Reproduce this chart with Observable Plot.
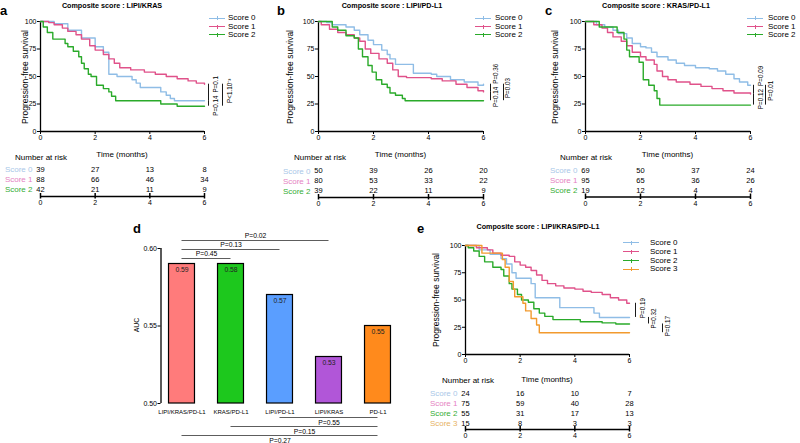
<!DOCTYPE html>
<html><head><meta charset="utf-8">
<script src="https://cdn.jsdelivr.net/npm/d3@7"></script>
<script src="https://cdn.jsdelivr.net/npm/@observablehq/plot@0.6"></script>
<style>
html,body{margin:0;padding:0;background:#fff;}
#root{position:relative;width:800px;height:443px;overflow:hidden;background:#fff;font-family:"Liberation Sans",Arial,Helvetica,sans-serif;color:#000;}
#root > svg{position:absolute;left:0;top:0;}
.t{position:absolute;white-space:nowrap;line-height:1;}
.lg{position:absolute;height:0;}
</style></head>
<body><div id="root"></div>
<script>
// ---------- shared ----------
const timeTicks = [0, 2, 4, 6];
const survTicks = [0, 25, 50, 75, 100];
const scoreNames = ["Score 0", "Score 1", "Score 2", "Score 3"];
const kmColors = ["#8FBDE6", "#E0528A", "#2AAA2A", "#F29A2E"];
const riskColors = ["#A9C7E8", "#E582C2", "#35AD35", "#E6B264"];

// ---------- panel a : LIPI/KRAS ----------
const aS0 = [[0,100],[0.5,98],[1,92],[1.5,85],[2,77],[2.3,72],[2.5,52],[2.8,50],[3.35,47],[3.5,44],[3.65,40],[4.3,40],[4.4,36],[4.6,33],[4.75,30],[4.9,28],[6,28]];
const aS1 = [[0,100],[0.3,99],[0.5,97],[0.8,94],[1,91],[1.3,88],[1.5,84],[1.8,78],[2,74],[2.3,70],[2.5,66],[2.7,62],[2.9,58],[3.3,56],[3.8,54],[4.2,52],[4.6,50],[5,48],[5.4,46],[5.7,44],[6,43]];
const aS2 = [[0,100],[0.1,95],[0.25,90],[0.45,84],[0.9,80],[1,77],[1.2,73],[1.4,68],[1.5,62],[1.6,57],[1.75,52],[1.85,50],[2.05,42],[2.3,39],[2.5,36],[2.6,32],[2.75,28],[4.4,25],[5,23],[6,23]];
const aRisk0 = [39, 27, 13, 8];
const aRisk1 = [88, 66, 46, 34];
const aRisk2 = [42, 21, 11, 9];
const aP = [[1,0,0,"P=0.1","start"],[0,2,0,"P=0.14","end"],[1,2,1,"P<1.10⁻³","middle"]];

// ---------- panel b : LIPI/PD-L1 ----------
const bS0 = [[0,100],[0.3,99],[0.5,97],[1,95],[1.3,92],[1.5,88],[1.8,83],[2,79],[2.3,74],[2.5,70],[2.6,66],[2.8,61],[3.45,53],[4.1,52],[4.3,50],[4.8,47],[5.3,45],[5.8,42],[6,43]];
const bS1 = [[0,100],[0.1,97],[0.4,93],[0.7,90],[1,88],[1.3,85],[1.5,82],[1.7,75],[1.9,71],[2.2,66],[2.5,62],[2.7,56],[2.9,50],[3.2,49],[4.1,48],[4.5,46],[5,43],[5.4,40],[5.8,37],[6,36]];
const bS2 = [[0,100],[0.5,95],[0.7,92],[1,87],[1.3,85],[1.45,75],[1.6,68],[1.8,60],[1.95,54],[2.1,47],[2.3,43],[2.5,40],[2.6,35],[2.8,33],[3.05,30],[3.15,28],[6,28]];
const bRisk0 = [50, 39, 26, 20];
const bRisk1 = [80, 53, 33, 22];
const bRisk2 = [39, 22, 11, 9];
const bP = [[0,1,0,"P=0.36","start"],[1,2,0,"P=0.14","end"],[0,2,1,"P=0.03","middle"]];

// ---------- panel c : KRAS/PD-L1 ----------
const cS0 = [[0,100],[0.4,97],[0.7,95],[1,92],[1.2,89],[1.5,85],[1.7,80],[2,77],[2.2,76],[2.4,72],[2.6,68],[3,65],[3.3,62],[3.6,60],[4,58],[4.5,57],[4.8,55],[5.1,52],[5.4,48],[5.6,45],[5.9,42],[6,42]];
const cS1 = [[0,100],[0.3,97],[0.6,94],[0.8,90],[1,86],[1.3,82],[1.5,78],[1.7,72],[2,68],[2.2,65],[2.5,61],[2.6,55],[2.8,50],[3,47],[3.3,45],[3.8,43],[4.2,41],[4.6,39],[5,37],[5.4,35],[6,34]];
const cS2 = [[0,100],[0.5,95],[1.15,90],[1.4,84],[1.5,74],[1.6,68],[1.95,63],[2.1,47],[2.3,42],[2.5,37],[2.6,30],[2.7,24],[6,24]];
const cRisk0 = [69, 50, 37, 24];
const cRisk1 = [95, 65, 36, 26];
const cRisk2 = [19, 12, 4, 4];
const cP = [[0,1,0,"P=0.09","start"],[1,2,0,"P=0.12","end"],[0,2,1,"P=0.01","middle"]];

// ---------- panel d : AUC ----------
const dCats = ["LIPI/KRAS/PD-L1", "KRAS/PD-L1", "LIPI/PD-L1", "LIPI/KRAS", "PD-L1"];
const dAUC = [0.59, 0.59, 0.57, 0.53, 0.55];
const dLabels = ["0.59", "0.58", "0.57", "0.53", "0.55"];
const dColors = ["#FF7B7B", "#1DC81D", "#5A9EFF", "#B156D8", "#FF8A1C"];
const dTopComp = [[0,1,"P=0.45"],[0,2,"P=0.13"],[0,3,"P=0.02"]];
const dBottomComp = [[2,4,"P=0.55"],[1,4,"P=0.15"],[0,4,"P=0.27"]];

// ---------- panel e : LIPI/KRAS/PD-L1 ----------
const eS0 = [[0,100],[0.5,96],[0.9,92],[1.3,88],[1.5,83],[1.7,75],[1.85,70],[2.4,65],[2.55,52],[3.45,43],[4.7,38],[4.9,34],[6,34]];
const eS1 = [[0,100],[0.4,98],[0.8,96],[1,93],[1.3,91],[1.6,90],[1.8,85],[2,82],[2.2,80],[2.4,77],[2.6,73],[2.8,68],[3,65],[3.3,63],[3.6,61],[4,60],[4.3,58],[4.6,57],[5,55],[5.3,52],[5.6,50],[5.9,47],[6,47]];
const eS2 = [[0,100],[0.1,98],[0.3,95],[0.5,90],[0.7,85],[1,80],[1.3,78],[1.4,72],[1.6,65],[1.7,60],[1.9,55],[2.05,50],[2.3,48],[2.5,42],[2.7,38],[2.9,35],[3.2,32],[4.2,30],[5,29],[5.5,28],[6,28]];
const eS3 = [[0,100],[0.6,93],[1.35,87],[1.45,80],[1.6,67],[1.75,60],[1.8,53],[2.1,47],[2.2,40],[2.4,33],[2.6,27],[2.7,20],[6,20]];
const eRisk0 = [24, 16, 10, 7];
const eRisk1 = [75, 59, 40, 28];
const eRisk2 = [55, 31, 17, 13];
const eRisk3 = [15, 8, 3, 3];
const eP = [[1,0,0,"P=0.19","middle"],[0,2,1,"P=0.32","middle"],[2,3,2,"P=0.17","middle"]];

// ---------- helpers ----------
const FONT = '"Liberation Sans", Arial, Helvetica, sans-serif';
const root = document.getElementById("root");
const baseStyle = {background: "none", overflow: "visible", fontFamily: FONT, fontSize: "7px", color: "#000"};
const intFmt = d => String(d);

function addText(s, x, y, o = {}) {
  const d = document.createElement("div");
  d.className = "t";
  d.textContent = s;
  const size = o.size || 8;
  d.style.fontSize = size + "px";
  if (o.bold) d.style.fontWeight = "bold";
  if (o.color) d.style.color = o.color;
  d.style.left = x + "px";
  d.style.top = y + "px";
  const ax = o.anchor === "start" ? "0" : o.anchor === "end" ? "-100%" : "-50%";
  d.style.transform = `translate(${ax},-50%)` + (o.rotate ? ` rotate(${o.rotate}deg)` : "");
  root.appendChild(d);
}
function addLegend(lineX, textX, y0, step, n) {
  for (let i = 0; i < n; i++) {
    const y = y0 + i * step;
    const l = document.createElement("div");
    l.className = "lg";
    l.style.left = lineX + "px"; l.style.top = (y - 0.75) + "px";
    l.style.width = "16px"; l.style.borderTop = `1.5px solid ${kmColors[i]}`;
    root.appendChild(l);
    const tk = document.createElement("div");
    tk.className = "lg";
    tk.style.left = (lineX + 7.5) + "px"; tk.style.top = (y - 2) + "px";
    tk.style.width = "0"; tk.style.height = "4px"; tk.style.borderLeft = `1px solid ${kmColors[i]}`;
    root.appendChild(tk);
    addText(scoreNames[i], textX, y, {size: 8, anchor: "start"});
  }
}

function kmPlot(p) {
  const ends = p.series.map(s => s[s.length - 1][1]);
  const marks = [
    Plot.ruleY([0], {strokeWidth: 1.3}),
    Plot.ruleX([0], {strokeWidth: 1.3})
  ];
  p.series.forEach((s, k) => marks.push(Plot.line(s, {
    x: d => d[0], y: d => d[1], curve: "step-after", stroke: kmColors[k], strokeWidth: 1.4
  })));
  p.pvals.forEach(([a, b, col, label, anchor]) => {
    const lo = Math.min(ends[a], ends[b]), hi = Math.max(ends[a], ends[b]);
    marks.push(Plot.ruleX([6], {y1: () => ends[a], y2: () => ends[b], dx: p.barDx[col], strokeWidth: 0.9}));
    let y, dy = 0;
    if (anchor === "start") { y = lo + p.junction; dy = -1.5; }
    else if (anchor === "end") { y = hi + p.junction; dy = 1.5; }
    else { y = (lo + hi) / 2 + p.mid; }
    marks.push(Plot.text([label], {
      x: () => 6, y: () => y, text: d => d, rotate: -90, textAnchor: anchor,
      dx: p.textDx[col], dy, fontSize: 6.3
    }));
  });
  return Plot.plot({
    width: 800, height: 443,
    marginLeft: p.xL, marginRight: 800 - p.xR, marginTop: p.yT, marginBottom: 443 - p.yB,
    style: baseStyle,
    x: {domain: [0, 6], ticks: timeTicks, tickFormat: intFmt, tickSize: 3, tickPadding: 1, label: null},
    y: {domain: [0, 100], ticks: survTicks, tickFormat: intFmt, tickSize: 3, tickPadding: 1, label: null},
    marks
  });
}

function riskPlot(p) {
  const dEnd = (p.axisPix - p.rowTop) / 10;
  const cells = p.values.flatMap((row, i) => row.map((v, j) => ({i, t: timeTicks[j], v})));
  const marks = [
    Plot.ruleY([dEnd], {strokeWidth: 1.5}),
    Plot.ruleX(timeTicks, {y1: () => dEnd - 0.3, y2: () => dEnd + 0.25, strokeWidth: 1.5}),
    Plot.text(cells, {x: "t", y: "i", text: d => String(d.v), fontSize: 7.5})
  ];
  p.values.forEach((row, i) => marks.push(Plot.text([scoreNames[i]], {
    x: () => 0, y: () => i, text: d => d, dx: -8, textAnchor: "end", fill: riskColors[i], fontSize: 8
  })));
  return Plot.plot({
    width: 800, height: 443,
    marginLeft: p.xL, marginRight: 800 - p.xR, marginTop: p.rowTop, marginBottom: 443 - p.axisPix,
    style: baseStyle,
    x: {domain: [0, 6], ticks: timeTicks, tickFormat: intFmt, tickSize: 0, tickPadding: 4, label: null},
    y: {domain: [dEnd, 0], axis: null},
    marks
  });
}

// ---------- KM panels ----------
const kmPanels = [
  {letter: "a", title: "Composite score : LIPI/KRAS", xL: 40, xR: 204, yT: 21, yB: 131,
   series: [aS0, aS1, aS2], pvals: aP, barDx: [4, 18], textDx: [11, 25], junction: 6, mid: 4,
   risk: [aRisk0, aRisk1, aRisk2], rowTop: 169, axisPix: 196,
   letterX: 0, titleX: 112, ylabX: 25, legLine: 209, legText: 228, legY: 18.3, legStep: 8.4,
   timeY: 155, narX: 41, narY: 157.5},
  {letter: "b", title: "Composite score : LIPI/PD-L1", xL: 318, xR: 483, yT: 21, yB: 131,
   series: [bS0, bS1, bS2], pvals: bP, barDx: [7, 20], textDx: [12.5, 24.5], junction: 6, mid: 4,
   risk: [bRisk0, bRisk1, bRisk2], rowTop: 170.5, axisPix: 197,
   letterX: 277, titleX: 392, ylabX: 290, legLine: 475, legText: 495, legY: 18.3, legStep: 8.4,
   timeY: 155, narX: 320, narY: 157.5},
  {letter: "c", title: "Composite score : KRAS/PD-L1", xL: 585, xR: 750, yT: 21, yB: 131,
   series: [cS0, cS1, cS2], pvals: cP, barDx: [3, 15], textDx: [10, 20], junction: 6, mid: 4,
   risk: [cRisk0, cRisk1, cRisk2], rowTop: 170, axisPix: 196.5,
   letterX: 545, titleX: 656, ylabX: 555, legLine: 747, legText: 768, legY: 18.3, legStep: 8.4,
   timeY: 155, narX: 586, narY: 157.5},
  {letter: "e", title: "Composite score : LIPI/KRAS/PD-L1", xL: 465, xR: 629, yT: 245, yB: 354,
   series: [eS0, eS1, eS2, eS3], pvals: eP, barDx: [6, 19, 33], textDx: [13, 24, 38], junction: 6, mid: 2,
   risk: [eRisk0, eRisk1, eRisk2, eRisk3], rowTop: 393, axisPix: 429,
   letterX: 417, titleX: 538, ylabX: 436, legLine: 623, legText: 650, legY: 243, legStep: 8.8,
   timeY: 379.5, narX: 468, narY: 381}
];

kmPanels.forEach(p => {
  root.appendChild(kmPlot(p));
  root.appendChild(riskPlot({xL: p.xL, xR: p.xR, rowTop: p.rowTop, axisPix: p.axisPix, values: p.risk}));
  const letterY = p.letter === "e" ? 228 : 10;
  addText(p.letter, p.letterX, letterY, {size: 13, bold: true, anchor: "start"});
  addText(p.title, p.titleX, p.letter === "e" ? 227 : 5.5, {size: 7.2, bold: true});
  addText("Progression-free survival", p.ylabX, (p.yT + p.yB) / 2 + 0.5, {size: 8.5, rotate: -90});
  addLegend(p.legLine, p.legText, p.legY, p.legStep, p.series.length);
  addText("Time (months)", (p.xL + p.xR) / 2, p.timeY, {size: 8});
  addText("Number at risk", p.narX, p.narY, {size: 8});
});

// ---------- panel d ----------
const PX = 1550; // pixels per AUC unit in panel d
const dRows = dCats.map((c, i) => ({i, cat: c, v: dAUC[i], lab: dLabels[i], col: dColors[i]}));
const topBr = dTopComp.map(([a, b, p], k) => ({a, b, p, y: 0.6 - (10 - 9 * k) / PX}));
const botBr = dBottomComp.map(([a, b, p], k) => ({a, b, p, y: 0.5 - (14 + 9 * k) / PX}));
const xMin = -0.4286;
root.appendChild(Plot.plot({
  width: 800, height: 443,
  marginLeft: 160.5, marginRight: 398, marginTop: 248, marginBottom: 40,
  style: baseStyle,
  color: {type: "identity"},
  x: {domain: [xMin, 4.5], axis: null},
  y: {domain: [0.5, 0.6], ticks: [0.5, 0.55, 0.6], tickFormat: d3.format(".2f"), tickSize: 3, tickPadding: 1, label: null},
  marks: [
    Plot.ruleX([xMin], {y1: () => 0.5, y2: () => 0.6, strokeWidth: 1.3}),
    Plot.rect(dRows, {x1: d => d.i - 0.265, x2: d => d.i + 0.265, y1: () => 0.5, y2: "v", fill: "col", stroke: "#000", strokeWidth: 1.2}),
    Plot.text(dRows, {x: "i", y: "v", text: "lab", dy: 6, fontSize: 6.8, fill: "#222"}),
    Plot.text(dRows, {x: "i", y: () => 0.5, text: "cat", dy: 9, fontSize: 6}),
    Plot.ruleY(topBr, {x1: "a", x2: "b", y: "y", strokeWidth: 0.8, stroke: "#333"}),
    Plot.text(topBr, {x: d => (d.a + d.b) / 2, y: "y", text: "p", dy: -4.5, fontSize: 6.8}),
    Plot.ruleY(botBr, {x1: "a", x2: "b", y: "y", strokeWidth: 0.8, stroke: "#333"}),
    Plot.text(botBr, {x: d => (d.a + d.b) / 2, y: "y", text: "p", dy: 5, fontSize: 6.8})
  ]
}));
addText("d", 133, 228, {size: 13, bold: true, anchor: "start"});
addText("AUC", 137, 325, {size: 6.8, rotate: -90});
</script></body></html>
